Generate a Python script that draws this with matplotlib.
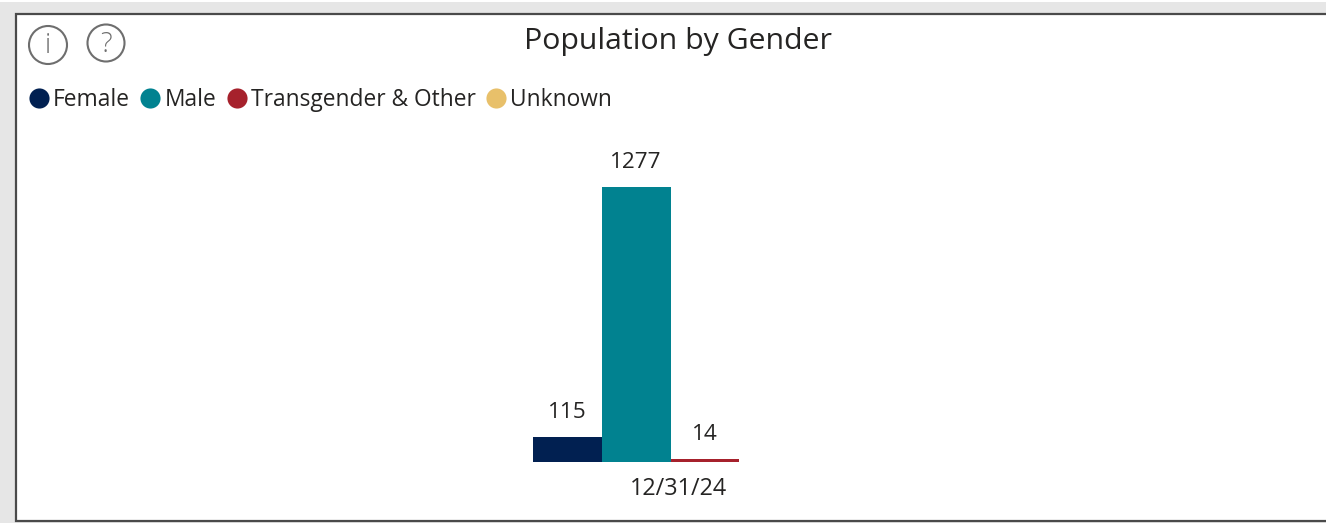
import matplotlib
matplotlib.use("Agg")
import matplotlib.pyplot as plt
from matplotlib.lines import Line2D
from matplotlib.patches import Circle, Rectangle
from matplotlib.transforms import ScaledTranslation

WIDTH = 1326
HEIGHT = 523
TEXT_COLOR = "#252423"

series_names = ["Female", "Male", "Transgender & Other", "Unknown"]
series_values = [115, 1277, 14, None]
series_colors = ["#012051", "#018290", "#A6212C", "#E8C06A"]
dates = ["12/31/24"]
title = "Population by Gender"

plt.rcParams["font.family"] = ["Open Sans", "DejaVu Sans"]

fig = plt.figure(figsize=(WIDTH / 100, HEIGHT / 100), dpi=100, facecolor="white")

# page background and visual frame, in pixels
bg = fig.add_axes([0, 0, 1, 1])
bg.set_xlim(0, WIDTH)
bg.set_ylim(HEIGHT, 0)
bg.axis("off")
bg.add_patch(Rectangle((0, 2), WIDTH, HEIGHT, fc="#E6E6E6", ec="none"))
bg.add_patch(Rectangle((16, 13.5), WIDTH, 507.5, fc="white", ec="#4A4A4A", lw=1.6))

# info and help icons
for cx, cy, ty, r, glyph in [(48, 45, 46, 19, "i"), (106, 43, 45, 18.5, "?")]:
    bg.add_patch(Circle((cx, cy), r, fc="white", ec="#6E6E6E", lw=1.5))
    bg.text(cx, ty, glyph, ha="center", va="center", fontsize=20,
            color="#6E6E6E", fontweight="light")

bg.text(678, 42, title, ha="center", va="center", fontsize=21.8, color=TEXT_COLOR)

# bars: axes spans exactly the group of four, baseline to tallest bar
ax = fig.add_axes([533 / WIDTH, (HEIGHT - 462) / HEIGHT, 275 / WIDTH, 275 / HEIGHT])
ax.patch.set_alpha(0)
bar_width = 0.25
for i, (name, value, color) in enumerate(zip(series_names, series_values, series_colors)):
    if value is None:
        continue
    x = -0.375 + i * bar_width
    ax.bar(x, value, width=bar_width, color=color, label=name)
    ax.annotate(str(value), (x, value), xytext=(0, 10), textcoords="offset points",
                ha="center", va="bottom", fontsize=16.2, color=TEXT_COLOR)
ax.set_xlim(-0.5, 0.5)
ax.set_ylim(0, 1277)
ax.set_yticks([])
ax.set_xticks([0])
ax.set_xticklabels(dates, fontsize=16.8, color=TEXT_COLOR)
ax.tick_params(axis="x", length=0, pad=11)
for label in ax.get_xticklabels():
    label.set_transform(label.get_transform() + ScaledTranslation(8 / 100, 0, fig.dpi_scale_trans))
for spine in ax.spines.values():
    spine.set_visible(False)

handles = [Line2D([], [], ls="none", marker="o", ms=14.5, color=c, mew=0) for c in series_colors]
fig.legend(handles, series_names, ncol=4, frameon=False, fontsize=16.4,
           labelcolor=TEXT_COLOR, loc="center left",
           bbox_to_anchor=(29.5 / WIDTH, (HEIGHT - 100) / HEIGHT),
           borderaxespad=0, borderpad=0, handlelength=0.8, handletextpad=0.22,
           columnspacing=0.5)

fig.savefig("out.png", dpi=100)
